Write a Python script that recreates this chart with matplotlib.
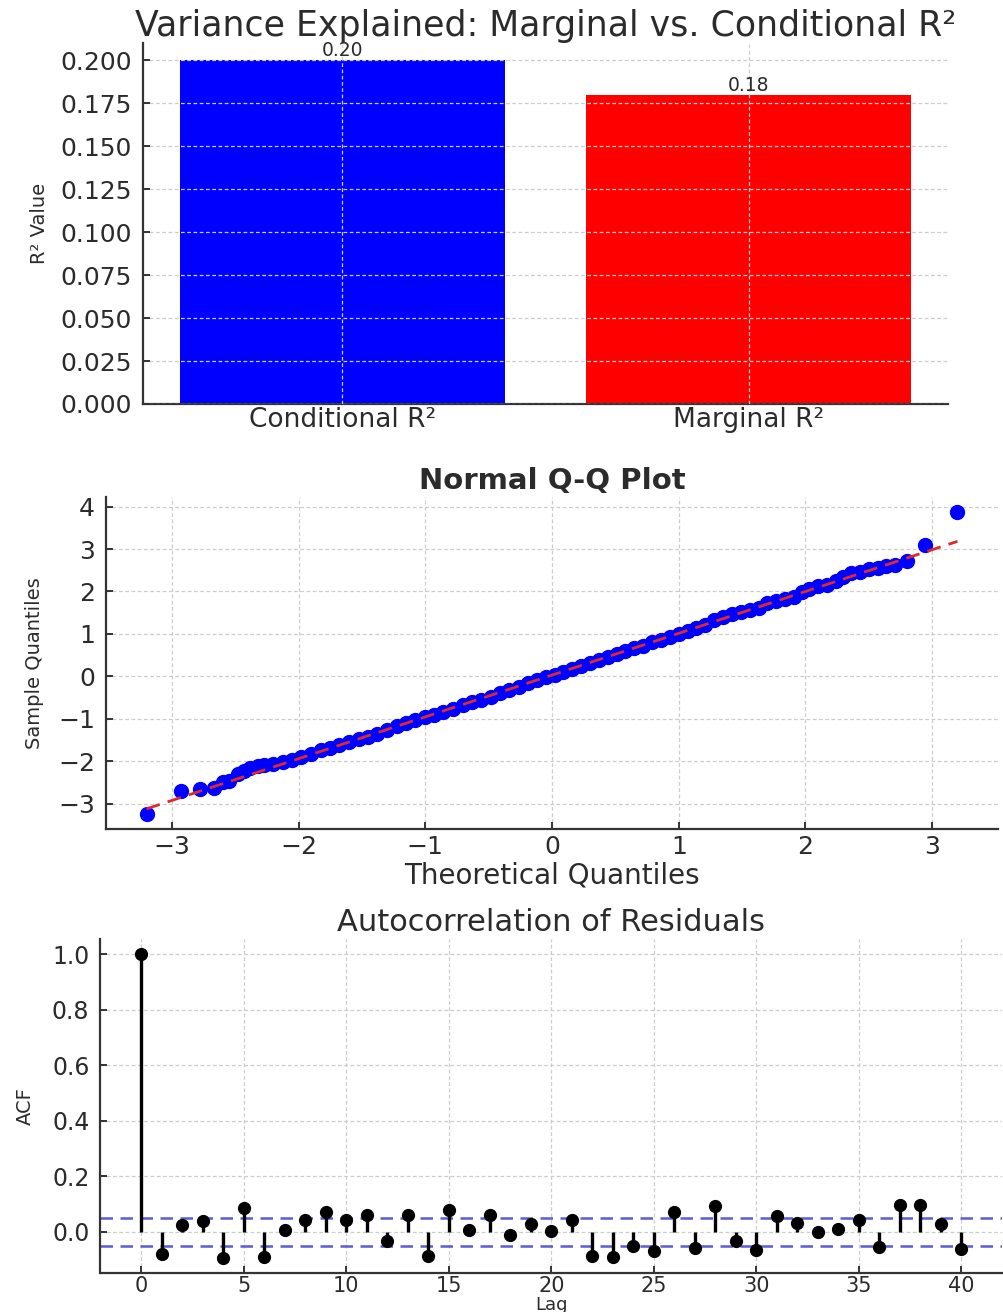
import matplotlib
matplotlib.use("Agg")
import matplotlib.pyplot as plt

# ---------------- data ----------------
bar_labels = ["Conditional R²", "Marginal R²"]
bar_values = [0.20, 0.18]
bar_colors = ["#0000ff", "#ff0000"]

qq_theoretical = [-3.2, -2.93, -2.78, -2.67, -2.6, -2.55, -2.48, -2.43, -2.38, -2.32,
                  -2.27, -2.2, -2.12, -2.05, -1.98, -1.9, -1.82, -1.75, -1.68, -1.6,
                  -1.52, -1.45, -1.38, -1.3, -1.22, -1.15, -1.08, -1.0, -0.93, -0.86,
                  -0.78, -0.7, -0.63, -0.56, -0.48, -0.41, -0.34, -0.26, -0.19, -0.12,
                  -0.05, 0.02, 0.09, 0.16, 0.23, 0.3, 0.37, 0.44, 0.51, 0.58,
                  0.65, 0.72, 0.79, 0.86, 0.93, 1.0, 1.07, 1.14, 1.21, 1.28,
                  1.35, 1.42, 1.49, 1.56, 1.63, 1.7, 1.77, 1.84, 1.91, 1.97,
                  2.03, 2.1, 2.17, 2.24, 2.3, 2.36, 2.43, 2.5, 2.57, 2.64,
                  2.71, 2.8, 2.94, 3.2]
qq_sample = [-3.24, -2.70, -2.66, -2.62, -2.48, -2.46, -2.30, -2.22, -2.16, -2.10,
             -2.08, -2.06, -2.02, -1.97, -1.90, -1.82, -1.74, -1.68, -1.62, -1.55,
             -1.48, -1.42, -1.36, -1.27, -1.18, -1.09, -1.03, -0.96, -0.90, -0.83,
             -0.76, -0.68, -0.61, -0.55, -0.48, -0.40, -0.31, -0.24, -0.15, -0.08,
             -0.02, 0.04, 0.11, 0.18, 0.24, 0.31, 0.38, 0.45, 0.53, 0.60,
             0.66, 0.72, 0.80, 0.86, 0.93, 1.00, 1.07, 1.14, 1.22, 1.32,
             1.40, 1.46, 1.51, 1.56, 1.62, 1.72, 1.78, 1.82, 1.87, 1.98,
             2.07, 2.12, 2.16, 2.24, 2.33, 2.44, 2.46, 2.52, 2.56, 2.59,
             2.63, 2.72, 3.09, 3.87]
fit_x = [-3.2, 3.2]
fit_y = [-3.12, 3.18]

acf_lags = list(range(41))
acf_values = [1.0, -0.079, 0.026, 0.041, -0.093, 0.086, -0.091, 0.007, 0.042, 0.072,
              0.042, 0.060, -0.034, 0.062, -0.085, 0.078, 0.008, 0.062, -0.010, 0.029,
              0.004, 0.044, -0.085, -0.089, -0.051, -0.069, 0.073, -0.056, 0.095, -0.034,
              -0.065, 0.059, 0.031, 0.000, 0.011, 0.043, -0.055, 0.098, 0.096, 0.030,
              -0.060]
conf_band = [0.05, -0.05]

# ---------------- style ----------------
plt.rcParams['font.family'] = ['DejaVu Sans']
TXT = "#2b2b2b"
GRID = dict(color="#cdcdcd", linestyle=(0, (3, 2)), linewidth=0.9)

fig = plt.figure(figsize=(10.04, 13.12), dpi=100)

def style(ax, size=18):
    for s in ["top", "right"]:
        ax.spines[s].set_visible(False)
    for s in ["left", "bottom"]:
        ax.spines[s].set_color("#333333")
        ax.spines[s].set_linewidth(1.6)
    ax.tick_params(direction="in", length=5, width=1.4, colors="#333333",
                   labelcolor=TXT, labelsize=size, pad=8)
    ax.grid(True, **GRID)

# ---- top: bar chart ----
ax1 = fig.add_axes([143/1004, 1-404/1312, 805/1004, 361/1312])
style(ax1)
bars = ax1.bar(bar_labels, bar_values, color=bar_colors, width=0.8)
ax1.set_axisbelow(False)
for b, v in zip(bars, bar_values):
    ax1.text(b.get_x() + b.get_width()/2, v, f"{v:.2f}", ha="center",
             va="bottom", fontsize=13.5, color=TXT)
yt1 = [0.0, 0.025, 0.05, 0.075, 0.1, 0.125, 0.15, 0.175, 0.2]
ax1.set_yticks(yt1)
ax1.set_yticklabels([f"{t:.3f}" for t in yt1])
ax1.tick_params(axis="x", length=0, pad=2, labelsize=19)
ax1.set_ylabel("R² Value", fontsize=14, color=TXT, labelpad=8)
ax1.set_title("Variance Explained: Marginal vs. Conditional R²", fontsize=25,
              color=TXT, pad=4)

# ---- middle: QQ plot ----
ax2 = fig.add_axes([106/1004, 1-829/1312, 892/1004, 332/1312])
style(ax2)
ax2.set_axisbelow(True)
ax2.plot(qq_theoretical, qq_sample, "o", color="#0000ff", markersize=10, zorder=3)
ax2.plot(fit_x, fit_y, color="#dd2a2a", linestyle=(0, (5, 3)), linewidth=2, zorder=4)
ax2.set_xticks([-3, -2, -1, 0, 1, 2, 3])
ax2.set_yticks([-3, -2, -1, 0, 1, 2, 3, 4])
ax2.tick_params(axis="x", pad=4)
ax2.set_xlabel("Theoretical Quantiles", fontsize=20, color=TXT, labelpad=2)
ax2.set_ylabel("Sample Quantiles", fontsize=14, color=TXT, labelpad=10)
ax2.set_title("Normal Q-Q Plot", fontsize=21, fontweight="bold", color=TXT, pad=6)

# ---- bottom: ACF ----
ax3 = fig.add_axes([100.5/1004, 1-1273/1312, 901.5/1004, 334/1312])
style(ax3, size=17)
ax3.set_axisbelow(True)
ax3.vlines(acf_lags, 0, acf_values, color="black", linewidth=2.4, zorder=3)
ax3.plot(acf_lags, acf_values, "o", color="black", markersize=8.5, zorder=4)
for c in conf_band:
    ax3.axhline(c, color="#4a4ad0", linestyle=(0, (5, 3)), linewidth=1.8, alpha=0.9, zorder=2)
ax3.set_xticks([0, 5, 10, 15, 20, 25, 30, 35, 40])
yt3 = [0.0, 0.2, 0.4, 0.6, 0.8, 1.0]
ax3.set_yticks(yt3)
ax3.set_yticklabels([f"{t:.1f}" for t in yt3])
ax3.tick_params(axis="x", labelsize=15, pad=2)
ax3.set_xlabel("Lag", fontsize=13, color=TXT, labelpad=0)
ax3.set_ylabel("ACF", fontsize=14, color=TXT, labelpad=12)
ax3.set_title("Autocorrelation of Residuals", fontsize=22, color=TXT, pad=6)

fig.savefig("out.png", dpi=100)
